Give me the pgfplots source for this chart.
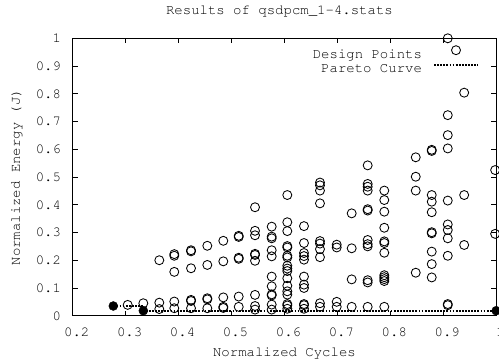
\documentclass[border=0pt]{standalone}
\usepackage[T1]{fontenc}
\usepackage{courier}
\renewcommand{\familydefault}{\ttdefault}
\usepackage{pgfplots}
\pgfplotsset{compat=1.18}
\usetikzlibrary{calc}
\pgfplotsset{
  dpleg/.style={legend image code/.code={\draw[mark repeat=2,mark phase=2,##1] plot coordinates {(0pt,5pt) (22pt,5pt) (44pt,5pt)};}},
  pcleg/.style={legend image code/.code={\draw[##1] (0pt,4.5pt) -- (44pt,4.5pt);}},
}
\begin{document}
\begin{tikzpicture}[font=\fontsize{14}{16}\selectfont]
\begin{axis}[name=ax, scale only axis, width=423.5pt, height=277.4pt,
  xmin=0.2, xmax=1, ymin=0, ymax=1, clip=false,
  xtick={0.2,0.3,0.4,0.5,0.6,0.7,0.8,0.9,1},
  xticklabels={0.2,0.3,0.4,0.5,0.6,0.7,0.8,0.9,1},
  ytick={0,0.1,0.2,0.3,0.4,0.5,0.6,0.7,0.8,0.9,1},
  yticklabels={0,0.1,0.2,0.3,0.4,0.5,0.6,0.7,0.8,0.9,1},
  tick align=inside, major tick length=5pt,
  tick style={line width=0.8pt, black},
  axis line style={line width=1pt},
  xticklabel style={anchor=base, inner sep=0pt, yshift=-20.3pt, xshift=4pt},
  yticklabel style={anchor=east, inner sep=0pt, xshift=-11.5pt},
  title={Results of qsdpcm\_1-4.stats},
  title style={at={(axis description cs:0.5,1)}, anchor=base, inner sep=0pt, yshift=17.6pt, xshift=-5pt},
  xlabel={Normalized Cycles},
  xlabel style={at={(axis description cs:0.5,0)}, anchor=base, inner sep=0pt, yshift=-40.3pt},
  ylabel={Normalized Energy (J)},
  ylabel style={at={($(axis description cs:0,0.5)+(-52.7pt,0)$)}, anchor=base, inner sep=0pt},
  legend plot pos=right,
  legend cell align=right,
  legend style={draw=none, fill=none, at={(axis description cs:1,1)}, anchor=north east,
    xshift=-17.2pt, yshift=-7.4pt, inner sep=0pt, outer sep=0pt, column sep=11pt,
    nodes={inner sep=0pt, text height=10pt, text depth=4pt}},
]
\addplot[only marks, mark=o, mark size=4.5pt, black, line width=0.85pt, dpleg]
  table[row sep=\\] {
x y\\
0.3039 0.039\\
0.3334 0.045\\
0.3636 0.200\\
0.3636 0.047\\
0.3636 0.024\\
0.3919 0.222\\
0.3919 0.216\\
0.3919 0.158\\
0.3919 0.051\\
0.3919 0.027\\
0.4235 0.236\\
0.4235 0.232\\
0.4235 0.171\\
0.4235 0.057\\
0.4235 0.053\\
0.4235 0.027\\
0.4543 0.252\\
0.4543 0.183\\
0.4543 0.063\\
0.4543 0.059\\
0.4543 0.027\\
0.4845 0.270\\
0.4845 0.196\\
0.4845 0.066\\
0.4845 0.032\\
0.4845 0.028\\
0.5136 0.288\\
0.5136 0.284\\
0.5136 0.209\\
0.5136 0.205\\
0.5136 0.069\\
0.5136 0.032\\
0.5444 0.391\\
0.5444 0.306\\
0.5444 0.290\\
0.5444 0.223\\
0.5444 0.219\\
0.5444 0.198\\
0.5444 0.075\\
0.5444 0.035\\
0.5444 0.022\\
0.5759 0.321\\
0.5759 0.285\\
0.5759 0.279\\
0.5759 0.236\\
0.5759 0.214\\
0.5759 0.141\\
0.5759 0.106\\
0.5759 0.077\\
0.5759 0.073\\
0.5759 0.040\\
0.5759 0.022\\
0.6054 0.435\\
0.6054 0.337\\
0.6054 0.305\\
0.6054 0.251\\
0.6054 0.246\\
0.6054 0.216\\
0.6054 0.210\\
0.6054 0.180\\
0.6054 0.170\\
0.6054 0.161\\
0.6054 0.135\\
0.6054 0.108\\
0.6054 0.088\\
0.6054 0.076\\
0.6054 0.042\\
0.6054 0.037\\
0.6054 0.025\\
0.6369 0.323\\
0.6369 0.262\\
0.6369 0.226\\
0.6369 0.215\\
0.6369 0.202\\
0.6369 0.141\\
0.6369 0.112\\
0.6369 0.100\\
0.6369 0.042\\
0.6369 0.038\\
0.6369 0.025\\
0.6671 0.480\\
0.6671 0.470\\
0.6671 0.451\\
0.6671 0.405\\
0.6671 0.269\\
0.6671 0.260\\
0.6671 0.240\\
0.6671 0.211\\
0.6671 0.045\\
0.6671 0.032\\
0.6987 0.256\\
0.6987 0.246\\
0.6987 0.050\\
0.6987 0.032\\
0.7270 0.369\\
0.7270 0.243\\
0.7270 0.131\\
0.7270 0.032\\
0.7572 0.542\\
0.7572 0.475\\
0.7572 0.465\\
0.7572 0.451\\
0.7572 0.384\\
0.7572 0.379\\
0.7572 0.273\\
0.7572 0.258\\
0.7572 0.250\\
0.7572 0.128\\
0.7572 0.120\\
0.7572 0.032\\
0.7886 0.451\\
0.7886 0.417\\
0.7886 0.375\\
0.7886 0.317\\
0.7886 0.268\\
0.7886 0.262\\
0.7886 0.227\\
0.7886 0.146\\
0.7886 0.139\\
0.7886 0.132\\
0.7886 0.125\\
0.7886 0.032\\
0.8480 0.571\\
0.8480 0.501\\
0.8480 0.451\\
0.8480 0.155\\
0.8782 0.598\\
0.8782 0.594\\
0.8782 0.435\\
0.8782 0.411\\
0.8782 0.373\\
0.8782 0.301\\
0.8782 0.297\\
0.8782 0.231\\
0.8782 0.186\\
0.8782 0.138\\
0.9085 1.000\\
0.9085 0.723\\
0.9085 0.651\\
0.9085 0.603\\
0.9085 0.415\\
0.9085 0.329\\
0.9085 0.309\\
0.9085 0.279\\
0.9085 0.216\\
0.9085 0.042\\
0.9085 0.038\\
0.9395 0.804\\
0.9395 0.435\\
0.9395 0.255\\
0.9980 0.525\\
0.9980 0.295\\
};
\addlegendentry{Design Points}
\addplot[const plot, black, line width=2pt, dash pattern=on 1.8pt off 1.3pt, pcleg]
  coordinates {(0.2767,0.035) (0.3334,0.018) (1,0.018)};
\addlegendentry{Pareto Curve}
\addplot[only marks, mark=*, mark size=4.5pt, black, forget plot]
  coordinates {(0.2767,0.035) (0.3334,0.018) (1,0.018)};
\end{axis}
\pgfresetboundingbox
\path[use as bounding box] ($(ax.south west)+(-72.7pt,-43.3pt)$) rectangle ($(ax.north east)+(2.8pt,38.3pt)$);
\end{tikzpicture}
\end{document}
